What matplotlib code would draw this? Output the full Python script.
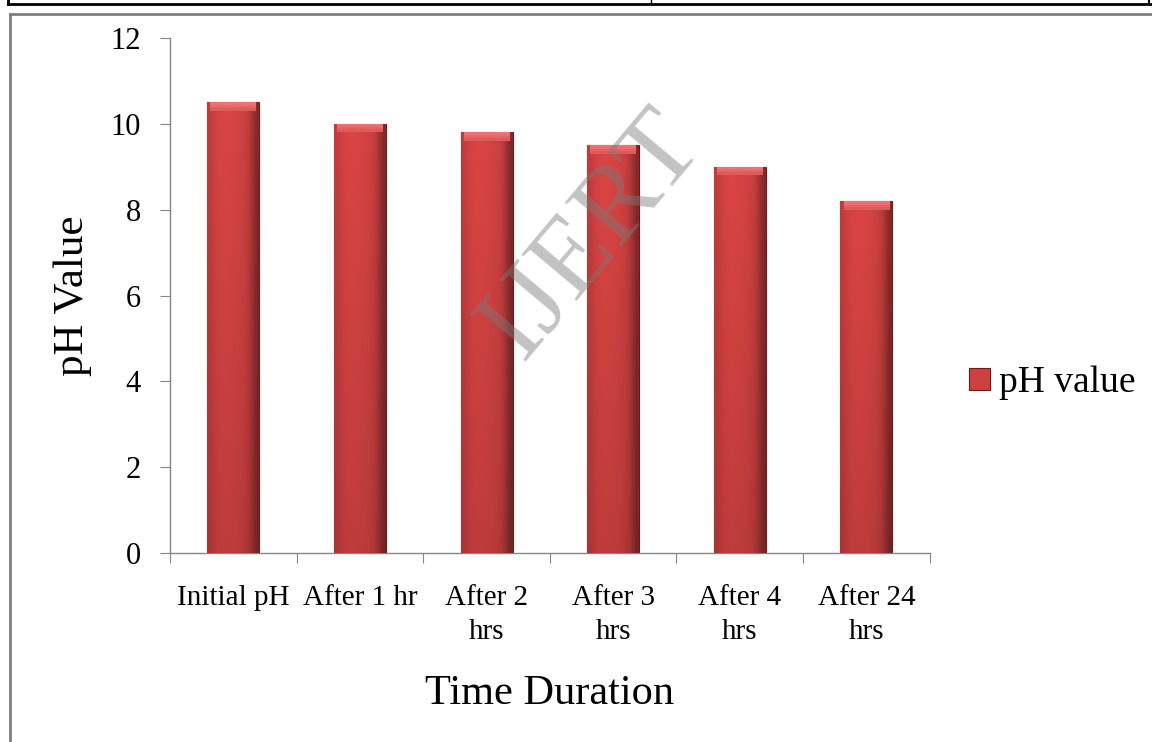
import numpy as np
import matplotlib.pyplot as plt
from matplotlib.lines import Line2D

categories = ['Initial pH', 'After 1 hr', 'After 2\nhrs', 'After 3\nhrs', 'After 4\nhrs', 'After 24\nhrs']
ph_values = [10.5, 10.0, 9.8, 9.5, 9.0, 8.2]
series_name = 'pH value'

plt.rcParams['font.family'] = ['Liberation Serif', 'DejaVu Serif']

fig = plt.figure(figsize=(11.52, 7.42), dpi=100)
ax = fig.add_axes([0.1476, 0.2547, 0.807 - 0.1476, 0.9488 - 0.2547])

x = np.arange(len(categories))
bars = ax.bar(x, ph_values, width=0.41, color='#cf4040', edgecolor='#6e1a1a',
              linewidth=0.8, label=series_name, zorder=2)

# shaded look for each bar, clipped to the bar
hgrad = np.array([0.9, 1.0, 1.03, 1.03, 1.02, 1.0, 0.97, 0.88, 0.6])
for b in bars:
    bx, bw, bh = b.get_x(), b.get_width(), b.get_height()
    vgrad = np.linspace(1.0, 0.88, 50)[:, None]
    shade = vgrad * hgrad[None, :]
    base = np.array([0.83, 0.26, 0.26])
    img = np.clip(shade[..., None] * base[None, None, :], 0, 1)
    im = ax.imshow(img, extent=(bx, bx + bw, 0, bh), aspect='auto',
                   interpolation='bicubic', zorder=3)
    im.set_clip_path(b)
    # lighter bevel at the top
    top = ax.imshow(np.array([[[0.93, 0.45, 0.45]], [[0.87, 0.36, 0.36]]]),
                    extent=(bx + bw * 0.06, bx + bw * 0.94, bh - 0.2, bh),
                    aspect='auto', interpolation='bilinear', zorder=4)
    top.set_clip_path(b)

ax.set_xlim(-0.5, len(categories) - 0.5)
ax.set_ylim(0, 12)
ax.set_yticks(range(0, 13, 2))
ax.set_xticks(np.arange(-0.5, len(categories), 1.0))
ax.set_xticklabels([])
ax.set_xticks(x, minor=True)
ax.set_xticklabels(categories, minor=True, fontsize=21, linespacing=1.4)
ax.tick_params(axis='x', which='minor', length=0, pad=23)
ax.tick_params(axis='x', which='major', length=7, direction='out', color='#868686')
ax.tick_params(axis='y', length=7, direction='out', color='#868686', labelsize=22, pad=14)

for s in ['top', 'right']:
    ax.spines[s].set_visible(False)
for s in ['left', 'bottom']:
    ax.spines[s].set_color('#868686')
    ax.spines[s].set_linewidth(1.0)

ax.set_xlabel('Time Duration', fontsize=30.5)
ax.set_ylabel('pH Value', fontsize=31)
ax.xaxis.set_label_coords(0.5, -0.235)
ax.yaxis.set_label_coords(-0.1026, 0.5)

leg = ax.legend(loc='center left', bbox_to_anchor=(1.008, 0.33), frameon=False,
                fontsize=27, handlelength=0.55, handleheight=0.55, handletextpad=0.25)

# watermark
fig.text(0.515, 0.682, 'IJERT', fontsize=80, color='#7a7a7a', alpha=0.45,
         rotation=50, ha='center', va='center', zorder=10)

# page/table borders around the chart
border = [
    ([0.007, 1.0], [0.994, 0.994], 'black', 2.0),
    ([0.007, 0.007], [0.994, 1.0], 'black', 2.0),
    ([0.565, 0.565], [0.994, 1.0], 'black', 1.0),
    ([0.997, 0.997], [0.994, 1.0], 'black', 1.5),
    ([0.009, 1.0], [0.981, 0.981], '#7f7f7f', 2.0),
    ([0.009, 0.009], [0.0, 0.981], '#7f7f7f', 2.0),
]
for xs, ys, c, lw in border:
    fig.add_artist(Line2D(xs, ys, color=c, linewidth=lw, transform=fig.transFigure))

fig.savefig('out.png', dpi=100)
